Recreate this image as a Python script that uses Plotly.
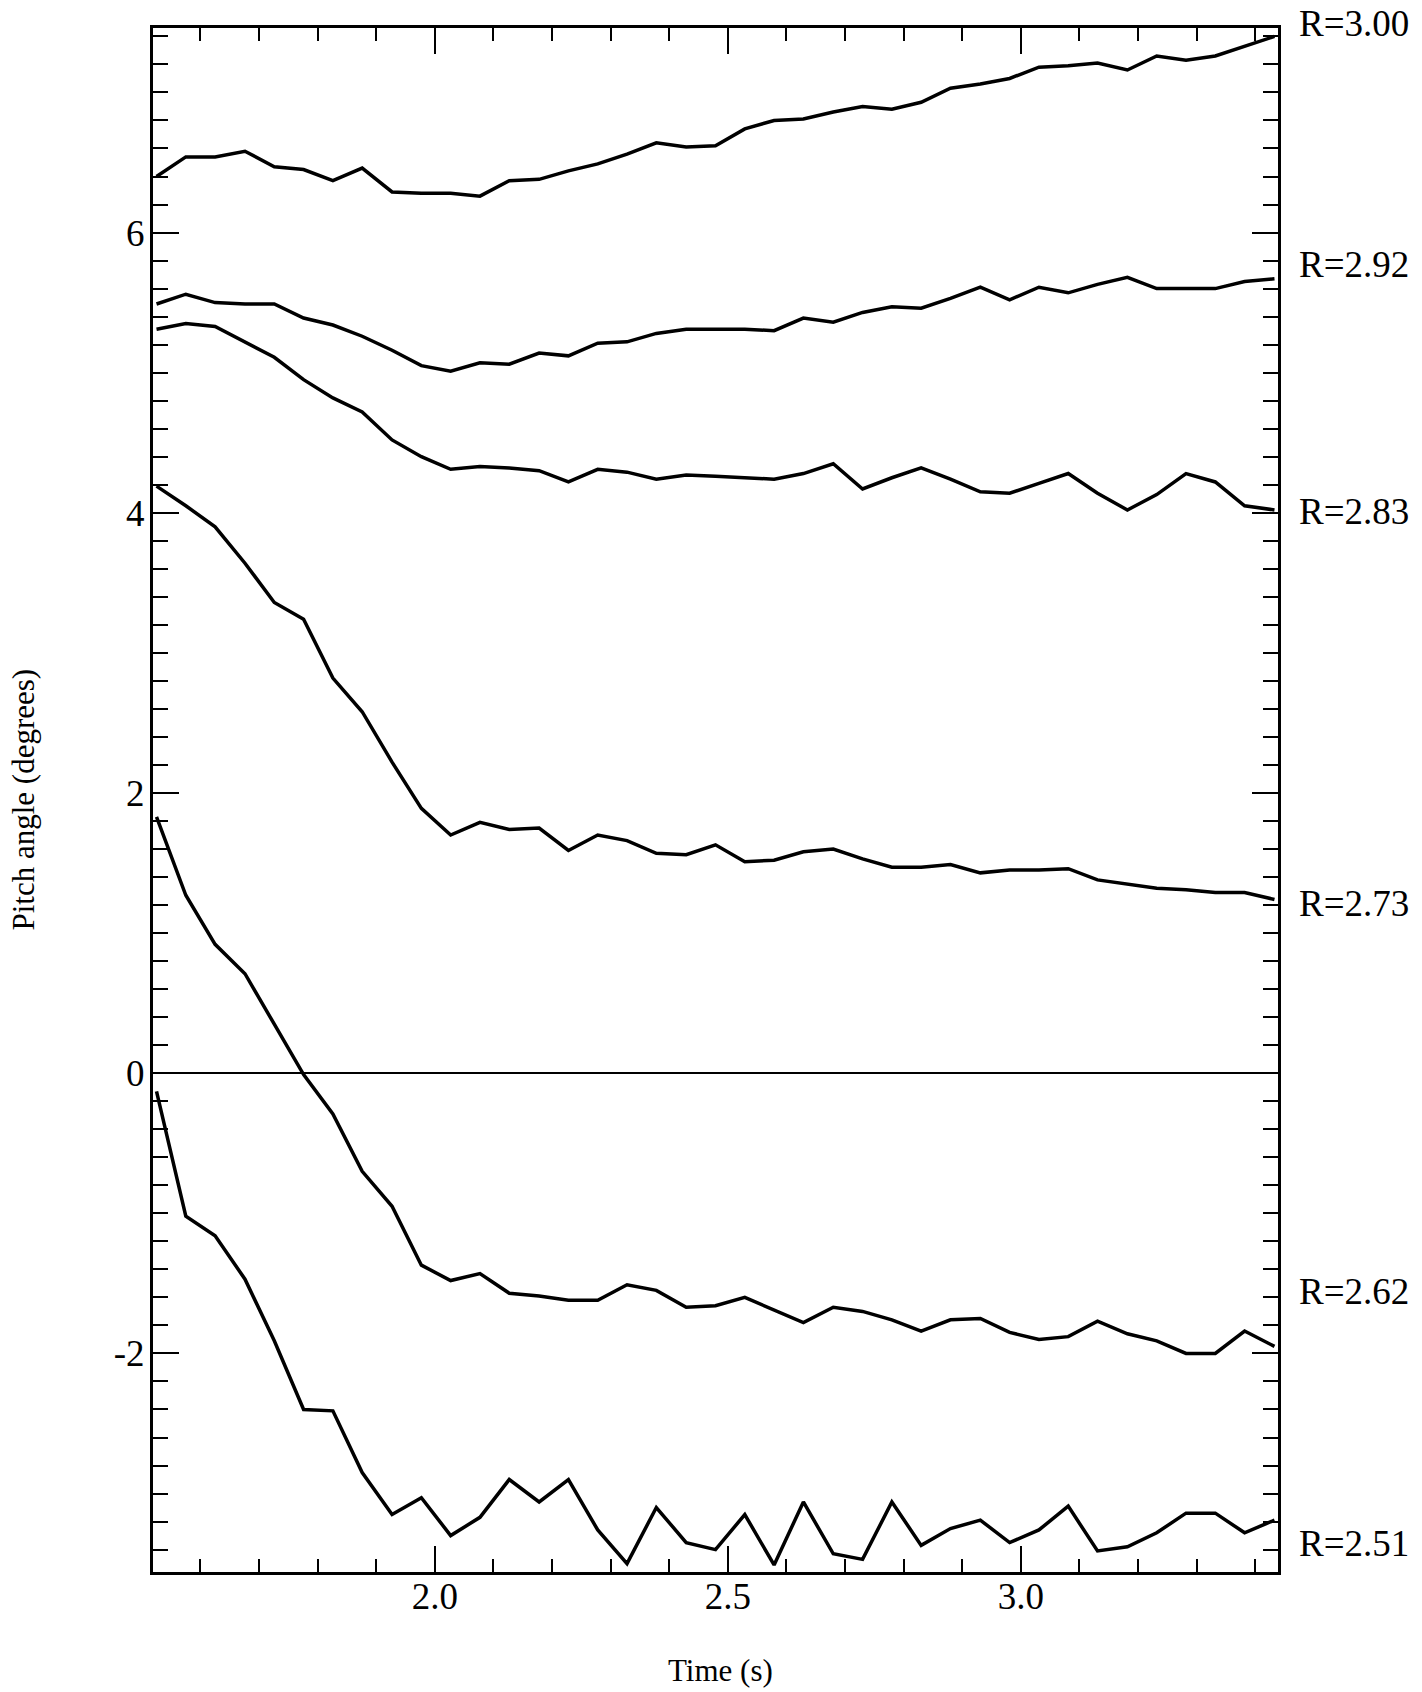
import plotly.graph_objects as go

# Time samples (s)
T = [1.525, 1.575, 1.625, 1.676, 1.726, 1.776, 1.826, 1.876, 1.927, 1.977,
     2.027, 2.077, 2.127, 2.178, 2.228, 2.278, 2.328, 2.378, 2.429, 2.479,
     2.529, 2.579, 2.629, 2.680, 2.730, 2.780, 2.830, 2.880, 2.931, 2.981,
     3.031, 3.081, 3.131, 3.182, 3.232, 3.282, 3.332, 3.382, 3.433]

# Pitch angle (degrees) per radius
R300 = [6.40, 6.54, 6.54, 6.58, 6.47, 6.45, 6.37, 6.46, 6.29, 6.28,
        6.28, 6.26, 6.37, 6.38, 6.44, 6.49, 6.56, 6.64, 6.61, 6.62,
        6.74, 6.80, 6.81, 6.86, 6.90, 6.88, 6.93, 7.03, 7.06, 7.10,
        7.18, 7.19, 7.21, 7.16, 7.26, 7.23, 7.26, 7.33, 7.40]
R292 = [5.49, 5.56, 5.50, 5.49, 5.49, 5.39, 5.34, 5.26, 5.16, 5.05,
        5.01, 5.07, 5.06, 5.14, 5.12, 5.21, 5.22, 5.28, 5.31, 5.31,
        5.31, 5.30, 5.39, 5.36, 5.43, 5.47, 5.46, 5.53, 5.61, 5.52,
        5.61, 5.57, 5.63, 5.68, 5.60, 5.60, 5.60, 5.65, 5.67]
R283 = [5.31, 5.35, 5.33, 5.22, 5.11, 4.95, 4.82, 4.72, 4.52, 4.40,
        4.31, 4.33, 4.32, 4.30, 4.22, 4.31, 4.29, 4.24, 4.27, 4.26,
        4.25, 4.24, 4.28, 4.35, 4.17, 4.25, 4.32, 4.24, 4.15, 4.14,
        4.21, 4.28, 4.14, 4.02, 4.13, 4.28, 4.22, 4.05, 4.02]
R273 = [4.19, 4.05, 3.90, 3.64, 3.36, 3.24, 2.82, 2.58, 2.22, 1.89,
        1.70, 1.79, 1.74, 1.75, 1.59, 1.70, 1.66, 1.57, 1.56, 1.63,
        1.51, 1.52, 1.58, 1.60, 1.53, 1.47, 1.47, 1.49, 1.43, 1.45,
        1.45, 1.46, 1.38, 1.35, 1.32, 1.31, 1.29, 1.29, 1.24]
R262 = [1.83, 1.27, 0.92, 0.71, 0.35, -0.01, -0.29, -0.70, -0.95, -1.37,
        -1.48, -1.43, -1.57, -1.59, -1.62, -1.62, -1.51, -1.55, -1.67, -1.66,
        -1.60, -1.69, -1.78, -1.67, -1.70, -1.76, -1.84, -1.76, -1.75, -1.85,
        -1.90, -1.88, -1.77, -1.86, -1.91, -2.00, -2.00, -1.84, -1.95]
R251 = [-0.13, -1.02, -1.16, -1.47, -1.91, -2.40, -2.41, -2.85, -3.15, -3.03,
        -3.30, -3.17, -2.90, -3.06, -2.90, -3.26, -3.50, -3.10, -3.35, -3.40,
        -3.15, -3.51, -3.06, -3.43, -3.47, -3.06, -3.37, -3.25, -3.19, -3.35,
        -3.26, -3.09, -3.41, -3.38, -3.28, -3.14, -3.14, -3.28, -3.19]

SERIES = [("R=3.00", R300), ("R=2.92", R292), ("R=2.83", R283),
          ("R=2.73", R273), ("R=2.62", R262), ("R=2.51", R251)]
# label vertical positions (degrees) for the right-hand labels
LABEL_Y = [7.49, 5.77, 4.01, 1.21, -1.56, -3.36]

Y_TICKS = [-2, 0, 2, 4, 6]
Y_TICKTEXT = ["-2", "0", "2", "4", "6"]
X_TICKS = [2.0, 2.5, 3.0]
X_TICKTEXT = ["2.0", "2.5", "3.0"]

FONT = "Liberation Serif, Times New Roman, serif"

fig = go.Figure()
for name, vals in SERIES:
    fig.add_trace(go.Scatter(x=T, y=vals, mode="lines", name=name,
                             line=dict(color="black", width=3.5),
                             showlegend=False, cliponaxis=True))

Y0, Y1 = -3.56, 7.46
for (name, _), ly in zip(SERIES, LABEL_Y):
    fig.add_annotation(text=name, xref="paper", yref="paper",
                       x=1.0165, y=(ly - Y0) / (Y1 - Y0),
                       xanchor="left", yanchor="middle", showarrow=False,
                       font=dict(family=FONT, size=37, color="black"))

fig.add_annotation(text="Time (s)", xref="paper", yref="paper",
                   x=0.504, y=-0.0635, xanchor="center", yanchor="middle",
                   showarrow=False, font=dict(family=FONT, size=31, color="black"))
fig.add_annotation(text="Pitch angle (degrees)", xref="paper", yref="paper",
                   x=-0.116, y=0.5, xanchor="center", yanchor="middle",
                   textangle=-90, showarrow=False,
                   font=dict(family=FONT, size=31, color="black"))

fig.update_layout(
    width=1422, height=1692,
    margin=dict(l=153, r=144, t=28, b=120),
    paper_bgcolor="white", plot_bgcolor="white",
    font=dict(family=FONT, size=37, color="black"),
    xaxis=dict(range=[1.519, 3.439], tickmode="array", tickvals=X_TICKS,
               ticktext=X_TICKTEXT, ticks="inside", ticklen=26, tickwidth=2,
               tickcolor="black", showline=True, linecolor="black", linewidth=3,
               mirror="allticks", showgrid=False, zeroline=False,
               ticklabelstandoff=-10, automargin=False,
               minor=dict(dtick=0.1, tick0=1.5, ticks="inside", ticklen=13,
                          tickwidth=2, tickcolor="black", showgrid=False),
               tickfont=dict(family=FONT, size=37, color="black")),
    yaxis=dict(range=[Y0, Y1], tickmode="array", tickvals=Y_TICKS,
               ticktext=Y_TICKTEXT, ticks="inside", ticklen=26, tickwidth=2,
               tickcolor="black", showline=True, linecolor="black", linewidth=3,
               mirror="allticks", showgrid=False,
               zeroline=True, zerolinecolor="black", zerolinewidth=2,
               ticklabelstandoff=-2, automargin=False,
               minor=dict(dtick=0.2, tick0=0, ticks="inside", ticklen=15,
                          tickwidth=2, tickcolor="black", showgrid=False),
               tickfont=dict(family=FONT, size=37, color="black")),
)

# remove the page's default body margin so the figure fills the window exactly
fig.write_html("out.html",
               config={"displayModeBar": False},
               post_script="document.body.style.margin='0px';")
